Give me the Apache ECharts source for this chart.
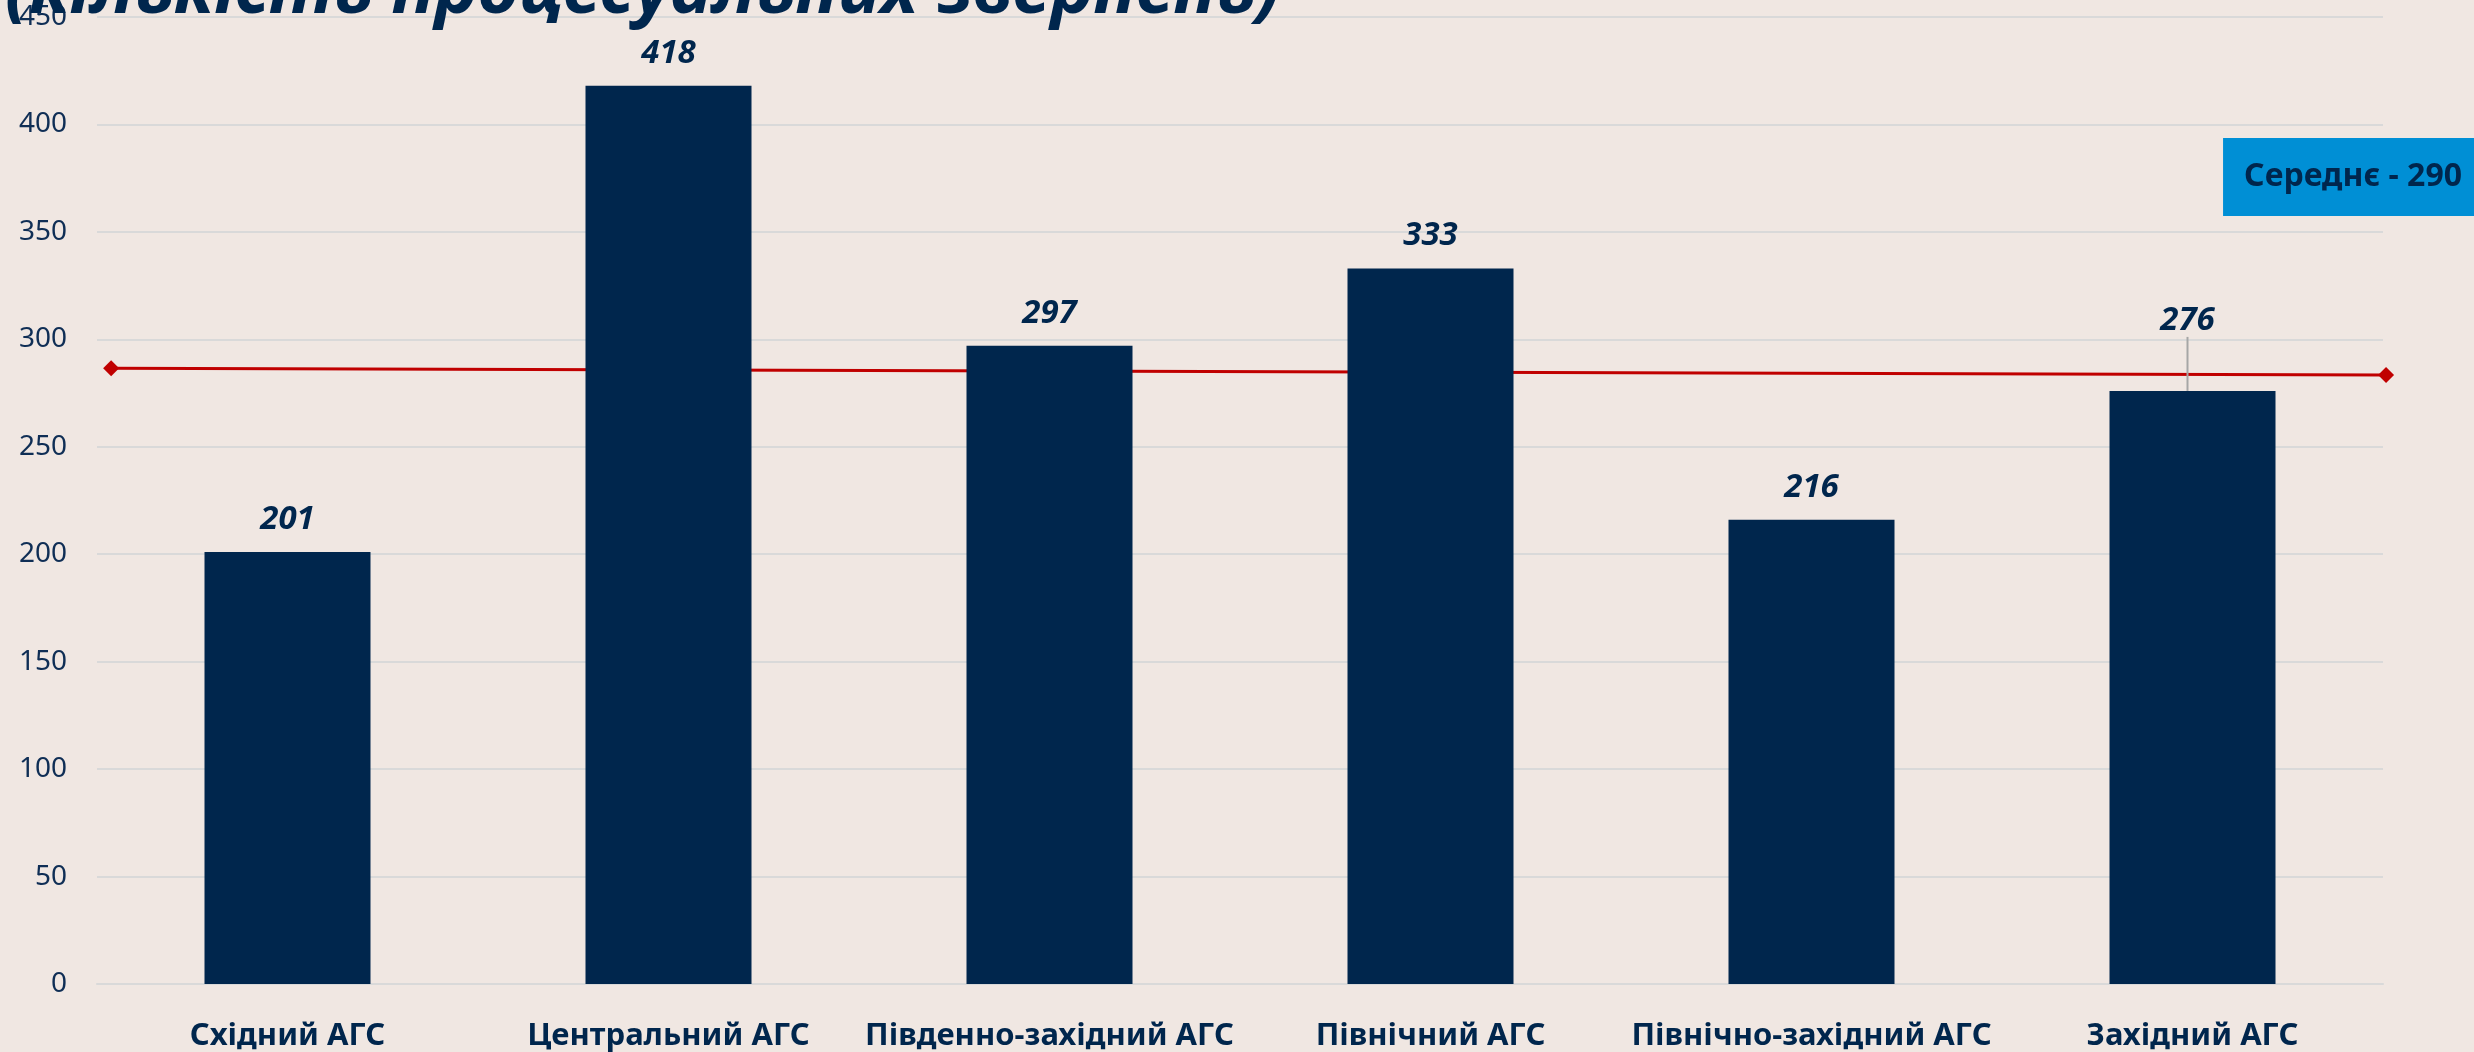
<!DOCTYPE html>
<html>
<head>
<meta charset="utf-8">
<script src="https://cdn.jsdelivr.net/npm/echarts@6/dist/echarts.min.js"></script>
<style>
  html, body { margin: 0; padding: 0; background: #f0e7e2; }
  #chart { width: 2474px; height: 1052px; }
</style>
</head>
<body>
<div id="chart"></div>
<script>
const categories = ['Східний АГС', 'Центральний АГС', 'Південно-західний АГС', 'Північний АГС', 'Північно-західний АГС', 'Західний АГС']
const values = [201, 418, 297, 333, 216, 276]
// red average line, drawn on a hidden 0..6 value axis across the category bands
const averageLine = [[0.037, 286.6], [6.008, 283.4]]
const averageName = 'Середнє - 290'
const yTicks = { min: 0, max: 450, interval: 50 }

const navy = '#00264d'
const chart = echarts.init(document.getElementById('chart'))

// only the last label is lifted off its bar, with a leader line
const barData = values.map((v, i) => i === 5
  ? { value: v, labelLine: { show: true } }
  : v)

chart.setOption({
  backgroundColor: '#f0e7e2',
  textStyle: { fontFamily: 'Noto Sans' },
  title: {
    text: '(кількість процесуальних звернень)',
    left: 0,
    top: -49,
    textStyle: { fontSize: 72, fontWeight: 'bold', fontStyle: 'italic', color: navy, fontFamily: 'Noto Sans' }
  },
  legend: {
    data: [{ name: averageName, icon: 'none' }],
    right: 0,
    top: 138,
    itemWidth: 0,
    itemHeight: 10,
    itemGap: 0,
    backgroundColor: '#008fd5',
    padding: [23, 12, 23, 16],
    selectedMode: false,
    textStyle: { fontSize: 32, fontWeight: 'bold', color: navy, fontFamily: 'Noto Sans' }
  },
  grid: { left: 97, right: 91, top: 17, bottom: 68 },
  xAxis: [
    {
      type: 'category',
      data: categories,
      axisLine: { show: true, lineStyle: { color: '#d9d9d9', width: 2 } },
      axisTick: { show: false },
      axisLabel: { interval: 0, margin: 37, fontSize: 31, fontWeight: 'bold', color: navy, fontFamily: 'Noto Sans' }
    },
    { type: 'value', min: 0, max: 6, show: false }
  ],
  yAxis: {
    type: 'value',
    min: yTicks.min,
    max: yTicks.max,
    interval: yTicks.interval,
    axisLine: { show: false },
    axisTick: { show: false },
    splitLine: { lineStyle: { color: '#d9d9d9', width: 2 } },
    axisLabel: { margin: 30, fontSize: 28, color: '#0f2e55', fontFamily: 'Noto Sans' }
  },
  series: [
    {
      name: averageName,
      type: 'line',
      xAxisIndex: 1,
      data: averageLine,
      z: 1,
      clip: false,
      symbol: 'diamond',
      symbolSize: 16,
      lineStyle: { color: '#c00000', width: 3 },
      itemStyle: { color: '#c00000' }
    },
    {
      name: 'Кількість',
      type: 'bar',
      data: barData,
      z: 3,
      barWidth: 166,
      itemStyle: { color: navy },
      label: {
        show: true,
        position: 'top',
        distance: 16,
        fontSize: 33,
        fontWeight: 'bold',
        fontStyle: 'italic',
        color: navy,
        fontFamily: 'Noto Sans'
      },
      labelLayout: p => (p.dataIndex === 5 ? { dx: -5, dy: -38 } : {}),
      labelLine: { show: false, lineStyle: { color: '#a6a6a6', width: 2 } }
    }
  ]
})
</script>
</body>
</html>
